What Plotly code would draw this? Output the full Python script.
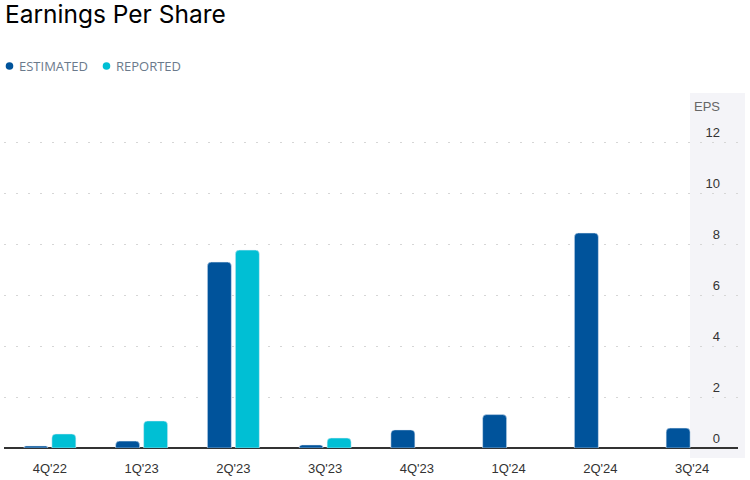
import plotly.graph_objects as go

quarters = ["4Q'22", "1Q'23", "2Q'23", "3Q'23", "4Q'23", "1Q'24", "2Q'24", "3Q'24"]
estimated = [0.08, 0.27, 7.29, 0.12, 0.71, 1.31, 8.43, 0.78]
reported = [0.55, 1.06, 7.76, 0.39, None, None, None, None]
y_ticks = [0, 2, 4, 6, 8, 10, 12]
legend_names = ["ESTIMATED", "REPORTED"]

EST = "#00539b"
REP = "#00bfd4"
W, H = 750, 480
L, R, T, B = 4, 12, 93, 32
pw = W - L - R
ph = H - T - B


def px_x(x):
    return (x - L) / pw


def px_y(y):
    return (H - B - y) / ph


fig = go.Figure()
fig.add_trace(go.Bar(x=quarters, y=estimated, name=legend_names[0], marker_color=EST,
                     showlegend=False, hoverinfo="x+y"))
fig.add_trace(go.Bar(x=quarters, y=reported, name=legend_names[1], marker_color=REP,
                     showlegend=False, hoverinfo="x+y"))

# shaded axis band
fig.add_shape(type="rect", xref="paper", yref="paper",
              x0=px_x(690), x1=px_x(745), y0=px_y(458), y1=1.0,
              fillcolor="#f4f4f8", line_width=0, layer="below")

# custom legend: circle markers + labels
for name, color, cx, tx in [(legend_names[0], EST, 9.5, 16.5), (legend_names[1], REP, 106.5, 114)]:
    fig.add_shape(type="circle", xref="paper", yref="paper",
                  xsizemode="pixel", ysizemode="pixel",
                  xanchor=px_x(cx), yanchor=px_y(66),
                  x0=-3.8, x1=3.8, y0=-3.8, y1=3.8,
                  fillcolor=color, line_width=0)
    fig.add_annotation(text=name, xref="paper", yref="paper",
                       x=px_x(tx), y=px_y(65.5), xanchor="left", yanchor="middle",
                       showarrow=False,
                       font=dict(family="Open Sans", size=13, color="#6b7a8c"))

fig.add_annotation(text="EPS", xref="paper", yref="paper",
                   x=px_x(722), y=px_y(107),
                   xanchor="right", yanchor="middle", showarrow=False,
                   font=dict(family="Liberation Sans, Arial", size=13, color="#666666"))

fig.update_layout(
    width=W, height=H,
    margin=dict(l=L, r=R, t=T, b=B, autoexpand=False),
    paper_bgcolor="white", plot_bgcolor="rgba(0,0,0,0)",
    showlegend=False,
    barmode="group", bargap=0.39, bargroupgap=0.143, barcornerradius=4,
    title=dict(text="Earnings Per Share", xref="container", x=5 / W, xanchor="left",
               yref="container", y=1 - 14 / H, yanchor="middle",
               font=dict(family="Inter", size=24.5, color="#000000")),
    xaxis=dict(type="category", range=[-0.5, 7.5], showgrid=False, zeroline=False,
               showline=False, ticks="outside", ticklen=8, tickcolor="rgba(0,0,0,0)",
               tickfont=dict(family="Liberation Sans, Arial", size=13, color="#333333"),
               fixedrange=True),
    yaxis=dict(range=[0, (448 - 93) / 25.5], tickvals=y_ticks, side="right",
               anchor="free", position=px_x(723),
               ticklabelposition="inside top", showline=False,
               showgrid=True, gridcolor="#d6d6d6", griddash="2px,10px", gridwidth=1,
               zeroline=True, zerolinecolor="#333333", zerolinewidth=1.5,
               tickfont=dict(family="Liberation Sans, Arial", size=13, color="#333333"),
               fixedrange=True),
)

fig.write_html("out.html", config={"displayModeBar": False},
               post_script="document.body.style.margin='0';")
